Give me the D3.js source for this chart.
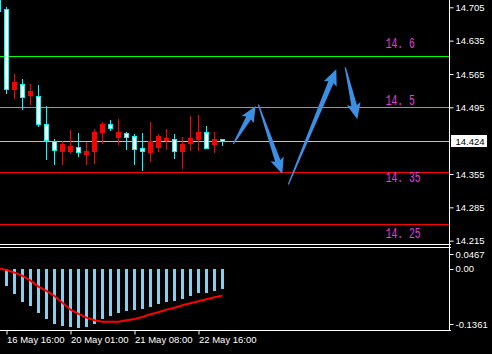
<!DOCTYPE html>
<html>
<head>
<meta charset="utf-8">
<script src="https://cdn.jsdelivr.net/npm/d3@7"></script>
<style>
  html, body { margin: 0; padding: 0; background: #000; }
  svg { display: block; }
  text { font-family: "Liberation Sans", Arial, sans-serif; }
</style>
</head>
<body>
<svg id="chart" width="492" height="354"></svg>
<script>
// bars start one before the first full candle (it is cut by the left edge)
var barIdx = d3.range(-1, 28)
var opens  = [14.752, 14.701, 14.534, 14.544, 14.521, 14.518, 14.460, 14.424, 14.403, 14.403, 14.412, 14.398, 14.404, 14.444, 14.461, 14.433, 14.442, 14.434, 14.409, 14.402, 14.412, 14.426, 14.428, 14.403, 14.421, 14.428, 14.444, 14.419, 14.428]
var highs  = [14.760, 14.705, 14.565, 14.554, 14.544, 14.542, 14.498, 14.428, 14.424, 14.447, 14.441, 14.423, 14.449, 14.464, 14.468, 14.470, 14.444, 14.438, 14.441, 14.465, 14.439, 14.449, 14.439, 14.432, 14.476, 14.478, 14.455, 14.443, 14.428]
var lows   = [14.690, 14.526, 14.515, 14.492, 14.503, 14.456, 14.387, 14.375, 14.377, 14.400, 14.393, 14.375, 14.378, 14.421, 14.447, 14.419, 14.407, 14.375, 14.364, 14.383, 14.404, 14.407, 14.389, 14.368, 14.406, 14.406, 14.410, 14.402, 14.416]
var closes = [14.698, 14.533, 14.548, 14.517, 14.529, 14.459, 14.427, 14.406, 14.418, 14.414, 14.402, 14.403, 14.443, 14.460, 14.452, 14.443, 14.432, 14.407, 14.404, 14.424, 14.435, 14.430, 14.404, 14.417, 14.430, 14.443, 14.410, 14.428, 14.424]

var histValues   = [null, -0.0372, -0.0551, -0.0729, -0.0818, -0.0974, -0.1108, -0.1219, -0.1264, -0.1286, -0.1309, -0.1286, -0.1219, -0.1108, -0.1041, -0.0974, -0.0930, -0.0907, -0.0885, -0.0840, -0.0774, -0.0729, -0.0707, -0.0662, -0.0595, -0.0528, -0.0528, -0.0484, -0.0439]
var signalValues = [0.0010, -0.0022, -0.0082, -0.0156, -0.0261, -0.0395, -0.0490, -0.0602, -0.0751, -0.0907, -0.1003, -0.1086, -0.1144, -0.1175, -0.1175, -0.1175, -0.1144, -0.1115, -0.1070, -0.1010, -0.0965, -0.0907, -0.0863, -0.0809, -0.0765, -0.0720, -0.0675, -0.0631, -0.0595]

var priceTicks = [14.705, 14.635, 14.565, 14.495, 14.355, 14.285, 14.215]
var lastPrice = 14.424
var indTicks = [0.0467, 0.00, -0.1361]
var indTickText = ['0.0467', '0.00', '-0.1361']
var timeTickBars = [0, 8, 16, 24]
var timeTickText = ['16 May 16:00', '20 May 01:00', '21 May 08:00', '22 May 16:00']

var levelPrices = [14.602, 14.495, 14.360, 14.250]
var levelColors = ['#00ff00', '#00ff00', '#ff0000', '#ff0000']
var labelText   = ['14. 6', '14. 5', '14. 35', '14. 25']
var labelPrices = [14.619, 14.500, 14.339, 14.221]
var labelBar = 47.4

// arrows: from (bar, price) to (bar, price)
var arrowFrom = [[28.35, 14.418], [31.48, 14.501], [35.23, 14.333], [42.35, 14.579]]
var arrowTo   = [[31.15, 14.498], [34.48, 14.355], [41.23, 14.575], [43.85, 14.470]]

var svg = d3.select('#chart')
var W = 492, H = 354, RightX = 449.5

var x = d3.scaleLinear().domain([-1, 27]).range([-1.5, 222.5])
var y = d3.scaleLinear().domain([14.215, 14.705]).range([240.7, 7.3])
var yI = d3.scaleLinear().domain([-0.1361, 0.0467]).range([330, 248])

svg.append('rect').attr('width', W).attr('height', H).attr('fill', '#000')

var main = svg.append('g')
main.append('clipPath').attr('id', 'mainClip')
    .append('rect').attr('x', 0).attr('y', 0).attr('width', RightX).attr('height', 244)
var plot = main.append('g').attr('clip-path', 'url(#mainClip)')

// horizontal levels
levelPrices.forEach(function (p, k) {
    plot.append('rect')
        .attr('x', 0).attr('width', RightX)
        .attr('y', Math.round(y(p))).attr('height', 1)
        .attr('fill', levelColors[k]).attr('shape-rendering', 'crispEdges')
})
plot.append('rect')
    .attr('x', 0).attr('width', RightX + 2)
    .attr('y', Math.round(y(lastPrice))).attr('height', 1)
    .attr('fill', '#c0c0c0').attr('shape-rendering', 'crispEdges')

// candles
barIdx.forEach(function (b, k) {
    var cx = x(b)
    var up = closes[k] >= opens[k]
    var col = up ? '#ff0000' : '#00ffff'
    plot.append('line')
        .attr('x1', cx).attr('x2', cx)
        .attr('y1', Math.round(y(highs[k]))).attr('y2', Math.round(y(lows[k])) + 1)
        .attr('stroke', col).attr('shape-rendering', 'crispEdges')
    var top = Math.round(y(Math.max(opens[k], closes[k])))
    var bot = Math.round(y(Math.min(opens[k], closes[k])))
    if (up) {
        plot.append('rect')
            .attr('x', cx - 2.5).attr('y', top)
            .attr('width', 5).attr('height', Math.max(1, bot - top + 1))
            .attr('fill', '#ff0000').attr('shape-rendering', 'crispEdges')
    } else {
        plot.append('rect')
            .attr('x', cx - 2).attr('y', top + 0.5)
            .attr('width', 4).attr('height', Math.max(1, bot - top))
            .attr('fill', '#ffffff').attr('stroke', '#00ffff').attr('stroke-width', 1)
            .attr('shape-rendering', 'crispEdges')
    }
})

// arrows
function arrowPath(a, b) {
    var tx = x(a[0]), ty = y(a[1]), px = x(b[0]), py = y(b[1])
    var L = Math.hypot(px - tx, py - ty)
    var dx = (px - tx) / L, dy = (py - ty) / L
    var nx = -dy, ny = dx
    var hl = 16, hw = 7, sw = 2.8, tw = 0.6
    var bx = px - dx * hl, by = py - dy * hl
    var pts = [
        [tx + nx * tw, ty + ny * tw],
        [bx + dx * 2 + nx * sw, by + dy * 2 + ny * sw],
        [bx + nx * hw, by + ny * hw],
        [px, py],
        [bx - nx * hw, by - ny * hw],
        [bx + dx * 2 - nx * sw, by + dy * 2 - ny * sw],
        [tx - nx * tw, ty - ny * tw]
    ]
    return 'M' + pts.map(function (p) { return p[0].toFixed(1) + ',' + p[1].toFixed(1) }).join('L') + 'Z'
}
arrowFrom.forEach(function (a, k) {
    plot.append('path').attr('d', arrowPath(a, arrowTo[k])).attr('fill', '#3c90e4')
})

// level labels
labelText.forEach(function (t, k) {
    plot.append('text')
        .attr('x', x(labelBar)).attr('y', y(labelPrices[k]))
        .attr('textLength', t.length * 5.8).attr('lengthAdjust', 'spacingAndGlyphs')
        .style('font-family', '"Liberation Mono", monospace').style('font-size', '15px')
        .attr('fill', '#e040e0')
        .text(t)
})

// right price axis
var yAxis = d3.axisRight(y).tickValues(priceTicks).tickSize(4).tickFormat(d3.format('.3f'))
var gY = svg.append('g').attr('transform', 'translate(' + RightX + ',0)').call(yAxis)
gY.select('.domain').remove()
gY.selectAll('line').attr('stroke', '#fff')
gY.selectAll('text').attr('fill', '#fff').attr('x', 6).style('font-size', '9.5px')
    .attr('font-family', null)

// last price box
var ly = Math.round(y(lastPrice)) + 0.5
svg.append('rect').attr('x', 451).attr('y', ly - 6.5).attr('width', 36).attr('height', 12).attr('fill', '#fff')
svg.append('text').attr('x', 455.5).attr('y', ly + 3.5).attr('fill', '#000')
    .style('font-size', '9.5px').text(d3.format('.3f')(lastPrice))

// indicator panel
var ind = svg.append('g')
ind.selectAll('rect.hist')
    .data(barIdx.map(function (b, k) { return { b: b, v: histValues[k] } }).filter(function (d) { return d.v !== null }))
    .enter().append('rect')
    .attr('class', 'hist')
    .attr('x', function (d) { return x(d.b) - 1.5 })
    .attr('y', yI(0))
    .attr('width', 3)
    .attr('height', function (d) { return yI(d.v) - yI(0) })
    .attr('fill', '#87ceeb').attr('shape-rendering', 'crispEdges')

ind.append('clipPath').attr('id', 'indClip')
    .append('rect').attr('x', 0).attr('y', 248).attr('width', RightX).attr('height', 82)
ind.append('path')
    .datum(barIdx.map(function (b, k) { return [b, signalValues[k]] }))
    .attr('clip-path', 'url(#indClip)')
    .attr('d', d3.line().x(function (d) { return x(d[0]) }).y(function (d) { return yI(d[1]) }))
    .attr('fill', 'none').attr('stroke', '#ff0000').attr('stroke-width', 2)

indTicks.forEach(function (v, k) {
    var ty = Math.min(324.3, Math.max(254, yI(v)))
    svg.append('line').attr('x1', RightX).attr('x2', RightX + 4)
        .attr('y1', Math.round(ty) + 0.5).attr('y2', Math.round(ty) + 0.5).attr('stroke', '#fff')
    svg.append('text').attr('x', 455.5).attr('y', ty + 3.5).attr('fill', '#fff')
        .style('font-size', '9.5px').text(indTickText[k])
})

// borders
var border = svg.append('g').attr('stroke', '#fff').attr('shape-rendering', 'crispEdges')
border.append('line').attr('x1', 0).attr('x2', RightX + 1).attr('y1', 244.5).attr('y2', 244.5)
border.append('line').attr('x1', 0).attr('x2', RightX + 1).attr('y1', 247.5).attr('y2', 247.5)
border.append('line').attr('x1', 0).attr('x2', RightX + 1).attr('y1', 330.5).attr('y2', 330.5)
border.append('line').attr('x1', RightX).attr('x2', RightX).attr('y1', 0).attr('y2', 331)

// time axis
var xAxis = d3.axisBottom(x).tickValues(timeTickBars).tickSize(4)
    .tickFormat(function (d, k) { return timeTickText[k] })
var gX = svg.append('g').attr('transform', 'translate(0,330.5)').call(xAxis)
gX.select('.domain').remove()
gX.selectAll('line').attr('stroke', '#fff')
gX.selectAll('text').attr('fill', '#fff').attr('text-anchor', 'start').attr('x', 0).attr('y', 6)
    .style('font-size', '9.5px').attr('font-family', null)
</script>
</body>
</html>
